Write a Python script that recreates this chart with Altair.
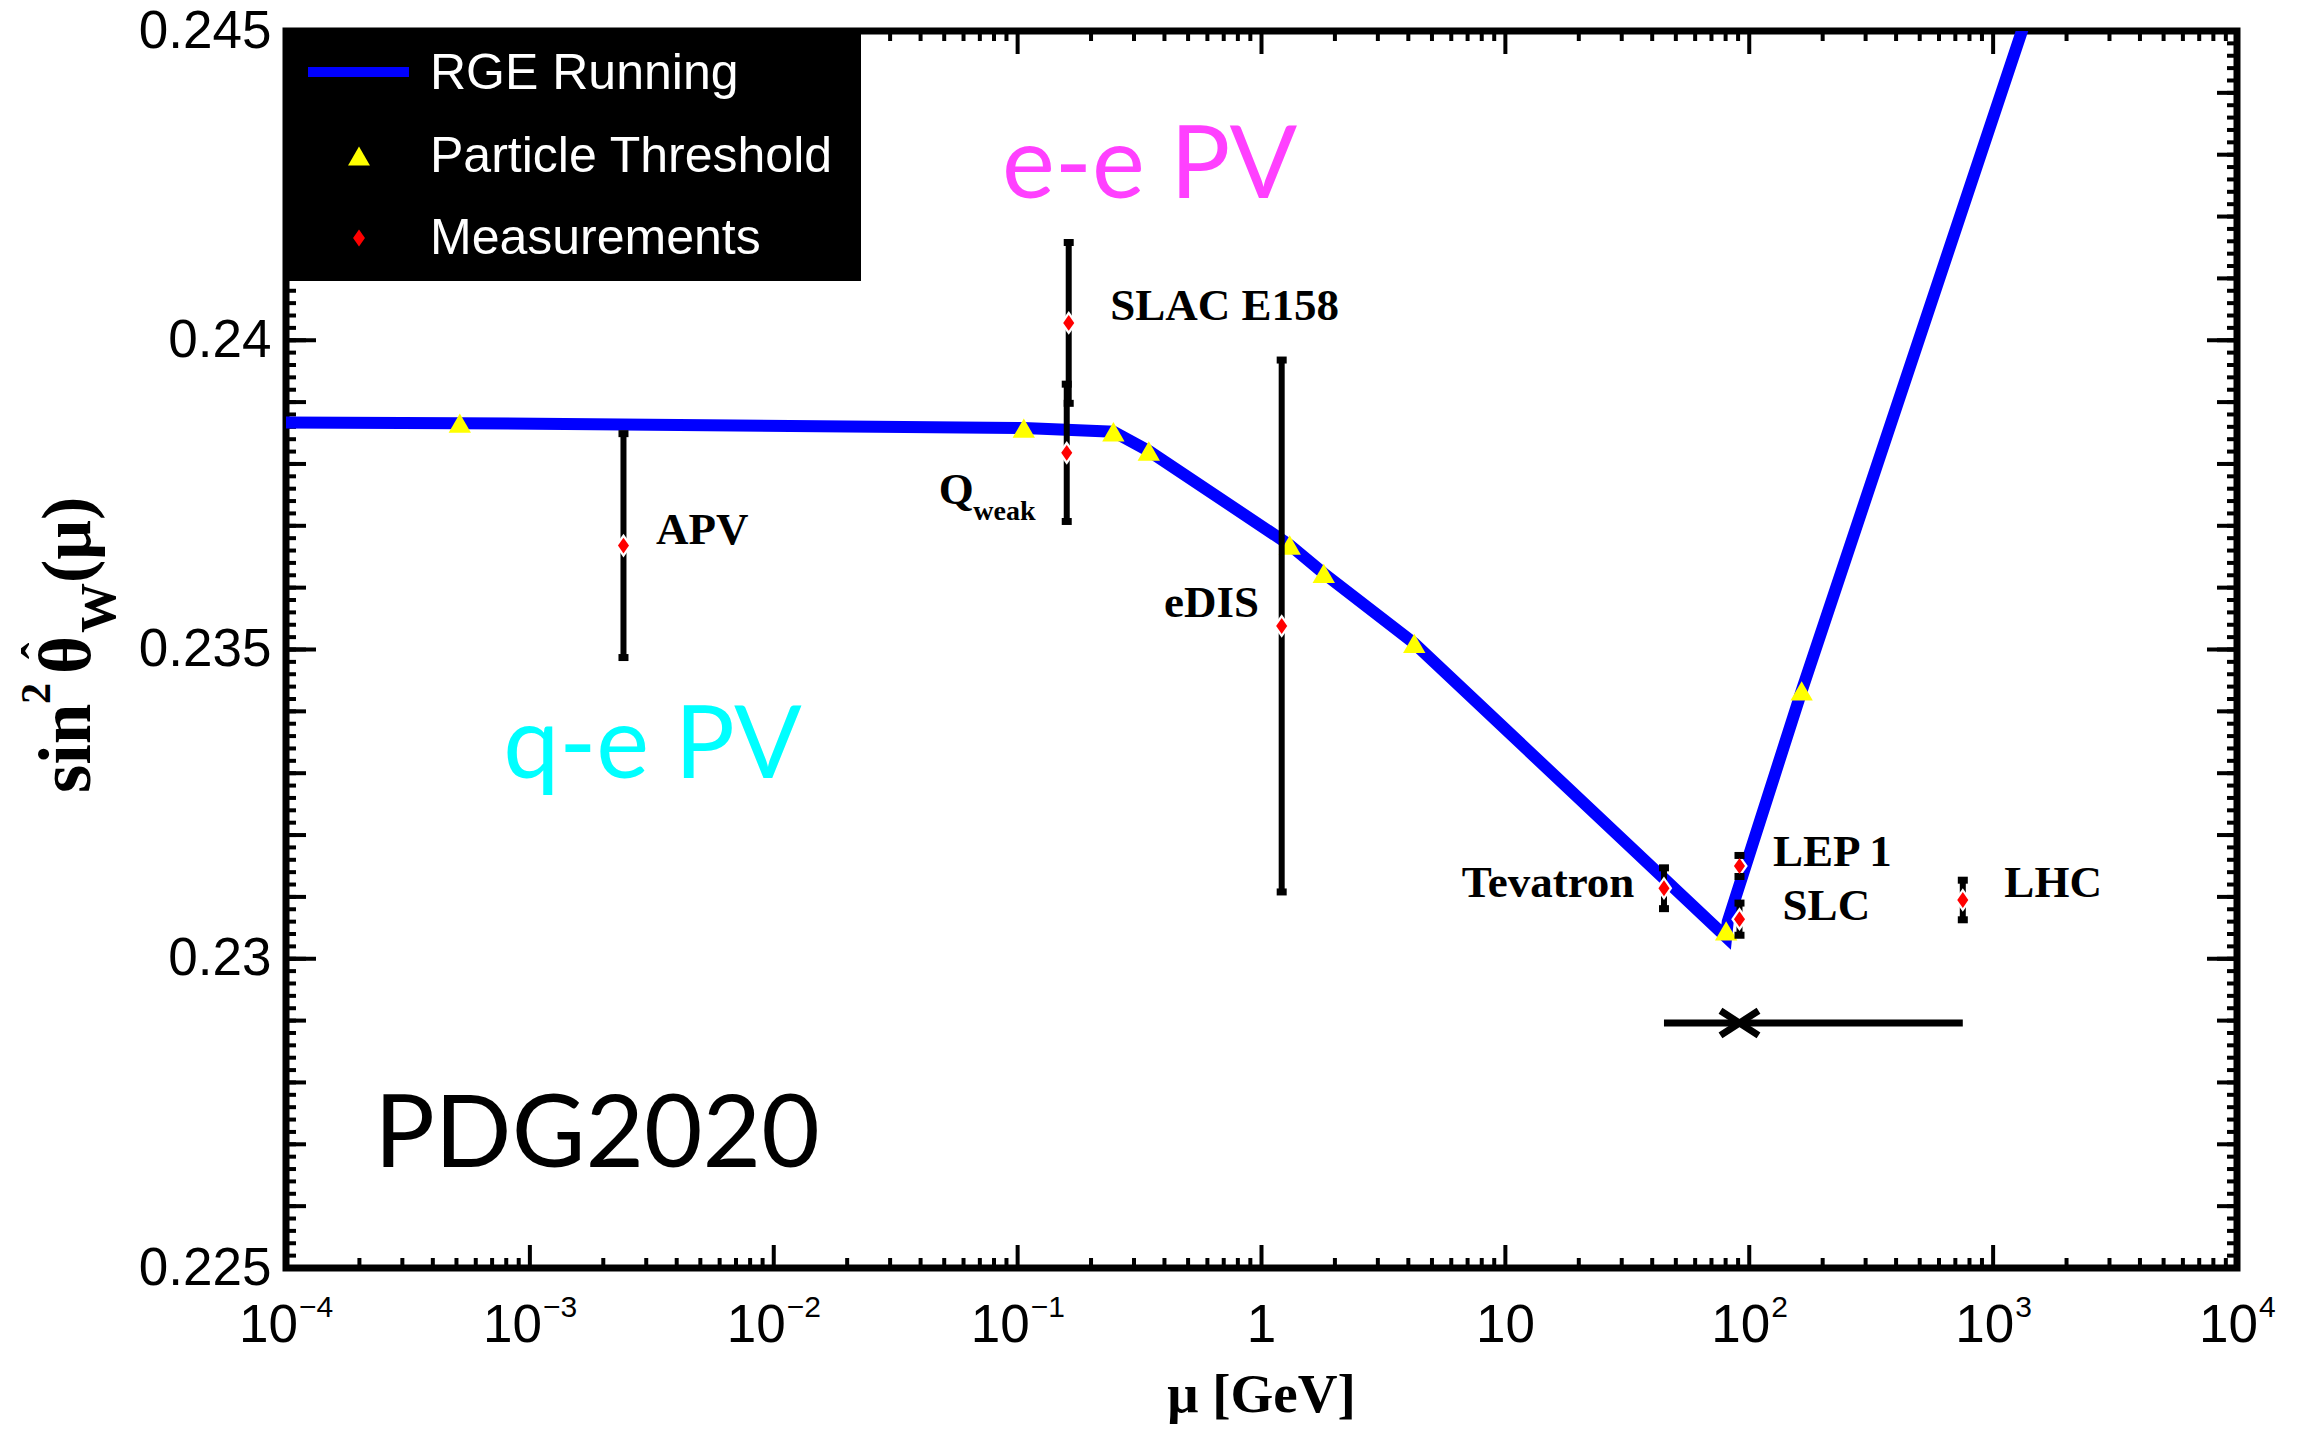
import altair as alt
import pandas as pd

# ---------------- data ----------------
# RGE running curve (mu in GeV, sin^2 theta_W)
rge_mu = [1e-4, 5.16e-4, 0.106, 0.247, 0.345, 1.305, 1.80, 4.23, 80.4, 81.6, 164.0, 2000.0]
rge_s2 = [0.23867, 0.23866, 0.23858, 0.23852, 0.23821, 0.23669, 0.23623, 0.23510, 0.23035, 0.23060, 0.23433, 0.24716]

# particle thresholds
thr_mu = [5.16e-4, 0.106, 0.247, 0.345, 1.305, 1.80, 4.23, 80.4, 164.0]
thr_s2 = [0.23866, 0.23858, 0.23852, 0.23821, 0.23669, 0.23623, 0.23510, 0.23045, 0.23433]

# measurements
meas_name = ["APV", "Qweak", "SLAC E158", "eDIS", "Tevatron", "LEP 1", "SLC", "LHC"]
meas_mu = [0.00242, 0.159, 0.162, 1.21, 44.7, 91.2, 91.2, 751.0]
meas_s2 = [0.23668, 0.23818, 0.24028, 0.23538, 0.23114, 0.23150, 0.23064, 0.23095]
meas_err = [0.00181, 0.00111, 0.00130, 0.00430, 0.00033, 0.00017, 0.00026, 0.00032]

# measurement labels (anchor = left end of baseline)
lab_text = ["APV", "Q", "SLAC E158", "eDIS", "Tevatron", "LEP 1", "SLC", "LHC"]
lab_mu = [0.00329, 0.0475, 0.2399, 0.398, 6.63, 125.0, 137.0, 1112.0]
lab_s2 = [0.23671, 0.23735, 0.24032, 0.23553, 0.23100, 0.23150, 0.23063, 0.23100]
sub_text = ["weak"]
sub_mu = [0.0658]
sub_s2 = [0.23709]

# horizontal range bar with cross
hbar_lo = [44.7]
hbar_hi = [751.0]
hbar_mid = [91.2]
hbar_s2 = [0.22896]

# region labels
region_text = ["e-e PV", "q-e PV"]
region_mu = [0.0863, 7.77e-4]
region_s2 = [0.2423, 0.23292]
region_color = ["#ff40ff", "#00ffff"]
tag_text = ["PDG2020"]
tag_mu = [2.3e-4]
tag_s2 = [0.22663]

# axis ticks / labels
y_major = [0.225, 0.23, 0.235, 0.24, 0.245]
y_mid = [round(0.225 + 0.001 * i, 3) for i in range(21)]
y_minor = [round(0.225 + 0.0002 * i, 4) for i in range(101)]
x_major = [1e-4, 1e-3, 1e-2, 1e-1, 1.0, 10.0, 1e2, 1e3, 1e4]
x_minor = [k * 10.0 ** d for d in range(-4, 4) for k in range(2, 10)]
xlab_val = [1e-4, 1e-3, 1e-2, 1e-1, 1.0, 10.0, 1e2, 1e3, 1e4]
xlab_base = ["10", "10", "10", "10", "1", "10", "10", "10", "10"]
xlab_exp = ["\u22124", "\u22123", "\u22122", "\u22121", "", "", "2", "3", "4"]
xlab_kind = ["neg", "neg", "neg", "neg", "plain", "plain", "pos", "pos", "pos"]

legend_labels = ["RGE Running", "Particle Threshold", "Measurements"]

# ---------------- tables ----------------
rge = pd.DataFrame({"mu": rge_mu, "s2": rge_s2})
thr = pd.DataFrame({"mu": thr_mu, "s2": thr_s2})
meas = pd.DataFrame({"name": meas_name, "mu": meas_mu, "s2": meas_s2, "err": meas_err})
meas["lo"] = meas["s2"] - meas["err"]
meas["hi"] = meas["s2"] + meas["err"]
labs = pd.DataFrame({"t": lab_text, "mu": lab_mu, "s2": lab_s2})
subs = pd.DataFrame({"t": sub_text, "mu": sub_mu, "s2": sub_s2})
hbar = pd.DataFrame({"lo": hbar_lo, "hi": hbar_hi, "mid": hbar_mid, "s2": hbar_s2})
regions = pd.DataFrame({"t": region_text, "mu": region_mu, "s2": region_s2, "c": region_color})
tag = pd.DataFrame({"t": tag_text, "mu": tag_mu, "s2": tag_s2})
xlabs = pd.DataFrame({"v": xlab_val, "base": xlab_base, "exp": xlab_exp, "kind": xlab_kind})
ymaj = pd.DataFrame({"v": y_major})
ymid = pd.DataFrame({"v": y_mid})
ymin = pd.DataFrame({"v": y_minor})
xmaj = pd.DataFrame({"v": x_major})
xmin = pd.DataFrame({"v": x_minor})
one = pd.DataFrame({"k": [0]})

W, H = 1951, 1237
xscale = alt.Scale(type="log", domain=[1e-4, 1e4])
yscale = alt.Scale(domain=[0.225, 0.245])
yaxis = alt.Axis(values=y_major, format=".3~f", labelFont="Liberation Sans", labelFontSize=53,
                 labelColor="black", labelPadding=15, ticks=False, tickSize=0, domain=False,
                 grid=False, title=None, labelBaseline="middle")


def X(f):
    return alt.X(f"{f}:Q", scale=xscale, axis=None)


def Y(f):
    return alt.Y(f"{f}:Q", scale=yscale, axis=yaxis)


layers = []

# ---- ticks ----
TW = 4
layers.append(alt.Chart(ymin).mark_rule(color="black", strokeWidth=TW).encode(y=Y("v"), x=alt.value(0), x2=alt.value(10)))
layers.append(alt.Chart(ymid).mark_rule(color="black", strokeWidth=TW).encode(y=Y("v"), x=alt.value(0), x2=alt.value(20)))
layers.append(alt.Chart(ymaj).mark_rule(color="black", strokeWidth=TW).encode(y=Y("v"), x=alt.value(0), x2=alt.value(30)))
layers.append(alt.Chart(ymin).mark_rule(color="black", strokeWidth=TW).encode(y=Y("v"), x=alt.value(W), x2=alt.value(W - 10)))
layers.append(alt.Chart(ymid).mark_rule(color="black", strokeWidth=TW).encode(y=Y("v"), x=alt.value(W), x2=alt.value(W - 20)))
layers.append(alt.Chart(ymaj).mark_rule(color="black", strokeWidth=TW).encode(y=Y("v"), x=alt.value(W), x2=alt.value(W - 30)))
layers.append(alt.Chart(xmin).mark_rule(color="black", strokeWidth=TW).encode(x=X("v"), y=alt.value(H), y2=alt.value(H - 10)))
layers.append(alt.Chart(xmaj).mark_rule(color="black", strokeWidth=TW).encode(x=X("v"), y=alt.value(H), y2=alt.value(H - 23)))
layers.append(alt.Chart(xmin).mark_rule(color="black", strokeWidth=TW).encode(x=X("v"), y=alt.value(0), y2=alt.value(10)))
layers.append(alt.Chart(xmaj).mark_rule(color="black", strokeWidth=TW).encode(x=X("v"), y=alt.value(0), y2=alt.value(23)))

# ---- x tick labels (10 with superscript exponent) ----
LF = "Liberation Sans"
layers.append(alt.Chart(xlabs).transform_filter("datum.kind == 'plain'").mark_text(
    font=LF, fontSize=53, align="center", baseline="alphabetic", color="black"
).encode(x=X("v"), y=alt.value(H + 74), text="base:N"))
layers.append(alt.Chart(xlabs).transform_filter("datum.kind == 'neg'").mark_text(
    font=LF, fontSize=53, align="right", baseline="alphabetic", color="black", dx=12
).encode(x=X("v"), y=alt.value(H + 74), text="base:N"))
layers.append(alt.Chart(xlabs).transform_filter("datum.kind == 'neg'").mark_text(
    font=LF, fontSize=30, align="left", baseline="alphabetic", color="black", dx=13
).encode(x=X("v"), y=alt.value(H + 49), text="exp:N"))
layers.append(alt.Chart(xlabs).transform_filter("datum.kind == 'pos'").mark_text(
    font=LF, fontSize=53, align="right", baseline="alphabetic", color="black", dx=21
).encode(x=X("v"), y=alt.value(H + 74), text="base:N"))
layers.append(alt.Chart(xlabs).transform_filter("datum.kind == 'pos'").mark_text(
    font=LF, fontSize=30, align="left", baseline="alphabetic", color="black", dx=22
).encode(x=X("v"), y=alt.value(H + 49), text="exp:N"))

# ---- axis titles ----
SF = "Liberation Serif"
layers.append(alt.Chart(one).mark_text(font=SF, fontWeight="bold", fontSize=55, align="center",
                                       baseline="alphabetic", color="black").encode(
    x=alt.value(W / 2), y=alt.value(H + 144), text=alt.value("\u03bc [GeV]")))
ytitle = [("sin", -196, 762, 73), ("2", -236, 673, 42), ("\u03b8", -196, 643, 73),
          ("W", -171, 602, 50), ("(\u03bc)", -196, 552, 70)]
for t, px, py, fs in ytitle:
    layers.append(alt.Chart(one).mark_text(font=SF, fontWeight="bold", fontSize=fs, align="left",
                                           baseline="alphabetic", angle=270, color="black").encode(
        x=alt.value(px), y=alt.value(py), text=alt.value(t)))
layers.append(alt.Chart(one).mark_text(font=SF, fontWeight="bold", fontSize=50, align="center",
                                       baseline="alphabetic", angle=270, color="black").encode(
    x=alt.value(-229), y=alt.value(620), text=alt.value("\u02c6")))

# ---- data marks ----
layers.append(alt.Chart(rge).mark_line(color="#0000ff", strokeWidth=12, clip=True).encode(x=X("mu"), y=Y("s2")))
layers.append(alt.Chart(thr).mark_point(shape="triangle-up", filled=True, color="#ffff00", size=500, opacity=1).encode(x=X("mu"), y=Y("s2")))
layers.append(alt.Chart(meas).mark_rule(color="black", strokeWidth=6).encode(x=X("mu"), y=Y("lo"), y2="hi:Q"))
DIA = "M0,-1L0.7,0L0,1L-0.7,0Z"
CAP = "M-1,-0.7L1,-0.7L1,0.7L-1,0.7Z"
layers.append(alt.Chart(meas).mark_point(shape=DIA, filled=True, color="white", size=560, opacity=1).encode(x=X("mu"), y=Y("s2")))
layers.append(alt.Chart(meas).mark_point(shape=CAP, filled=True, color="black", size=100, opacity=1).encode(x=X("mu"), y=Y("lo")))
layers.append(alt.Chart(meas).mark_point(shape=CAP, filled=True, color="black", size=100, opacity=1).encode(x=X("mu"), y=Y("hi")))
layers.append(alt.Chart(meas).mark_point(shape=DIA, filled=True, color="#ff0000", size=250, opacity=1).encode(x=X("mu"), y=Y("s2")))

# range bar with cross
layers.append(alt.Chart(hbar).mark_rule(color="black", strokeWidth=7).encode(x=X("lo"), x2="hi:Q", y=Y("s2")))
layers.append(alt.Chart(hbar).mark_point(shape="M-1,-0.65L1,0.65M-1,0.65L1,-0.65", filled=False, color="black",
                                         strokeWidth=7, size=1444, opacity=1).encode(x=X("mid"), y=Y("s2")))

# ---- annotations ----
layers.append(alt.Chart(labs).mark_text(font=SF, fontWeight="bold", fontSize=45, align="left",
                                        baseline="alphabetic", color="black").encode(x=X("mu"), y=Y("s2"), text="t:N"))
layers.append(alt.Chart(subs).mark_text(font=SF, fontWeight="bold", fontSize=28, align="left",
                                        baseline="alphabetic", color="black").encode(x=X("mu"), y=Y("s2"), text="t:N"))
layers.append(alt.Chart(regions).mark_text(font="Lato", fontSize=100, align="left", baseline="alphabetic").encode(
    x=X("mu"), y=Y("s2"), text="t:N", color=alt.Color("c:N", scale=None)))
layers.append(alt.Chart(tag).mark_text(font="Lato", fontSize=101, align="left", baseline="alphabetic", color="black").encode(
    x=X("mu"), y=Y("s2"), text="t:N"))

# ---- legend box ----
layers.append(alt.Chart(one).mark_rect(color="black").encode(
    x=alt.value(-3), x2=alt.value(575), y=alt.value(-3), y2=alt.value(250)))
layers.append(alt.Chart(one).mark_rule(color="#0000ff", strokeWidth=10).encode(
    x=alt.value(22), x2=alt.value(123), y=alt.value(41)))
layers.append(alt.Chart(one).mark_point(shape="triangle-up", filled=True, color="#ffff00", size=480, opacity=1).encode(
    x=alt.value(73), y=alt.value(125)))
layers.append(alt.Chart(one).mark_point(shape=DIA, filled=True, color="#ff0000", size=289, opacity=1).encode(
    x=alt.value(73), y=alt.value(207)))
for lbl, by in zip(legend_labels, [58, 141, 223]):
    layers.append(alt.Chart(one).mark_text(font=LF, fontSize=50, align="left", baseline="alphabetic", color="white").encode(
        x=alt.value(144), y=alt.value(by), text=alt.value(lbl)))

chart = alt.layer(*layers).properties(
    width=W, height=H,
    padding={"left": 278, "top": 23, "right": 56, "bottom": 158},
    autosize=alt.AutoSizeParams(type="none"),
).configure_view(stroke="black", strokeWidth=7)

chart.save("out.html", embed_options={"renderer": "svg", "actions": False})
